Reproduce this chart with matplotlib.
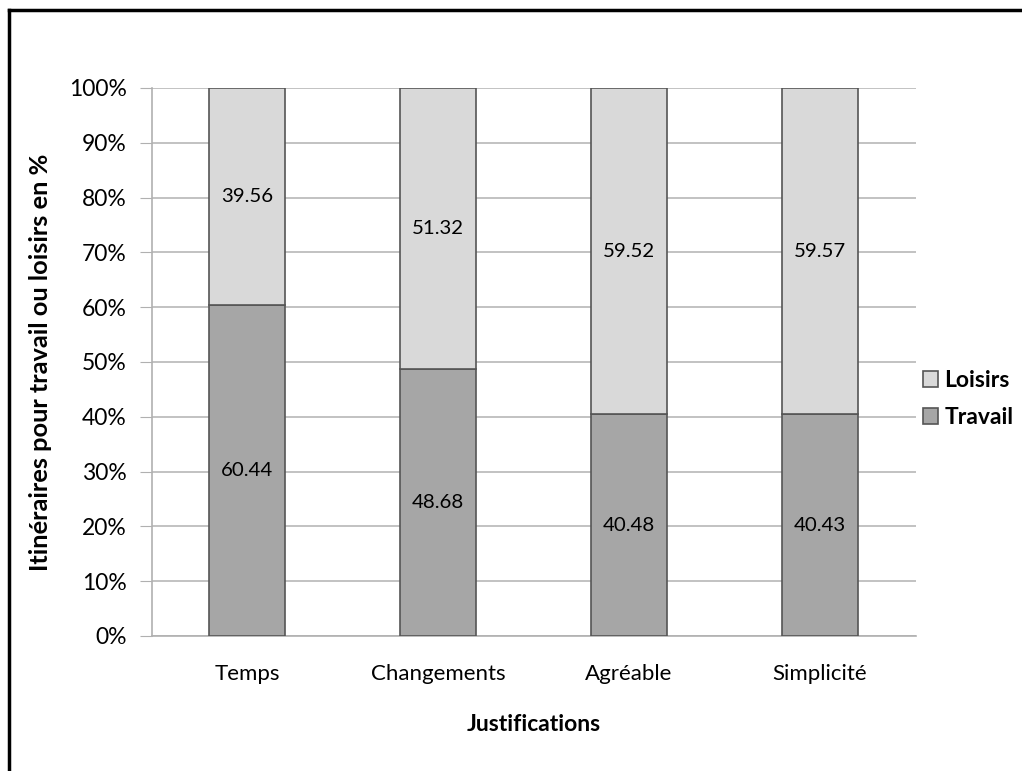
import matplotlib.pyplot as plt
from matplotlib.lines import Line2D

# Données
categories = ['Temps', 'Changements', 'Agréable', 'Simplicité']
travail = [60.44, 48.68, 40.48, 40.43]
loisirs = [39.56, 51.32, 59.52, 59.57]
yticks = [0, 10, 20, 30, 40, 50, 60, 70, 80, 90, 100]

plt.rcParams['font.family'] = ['Lato', 'DejaVu Sans']

W, H = 1022, 771
fig = plt.figure(figsize=(W / 100, H / 100), dpi=100)
ax = fig.add_axes([151.5 / W, 1 - 636 / H, 764 / W, 548 / H])

x = range(len(categories))
b1 = ax.bar(x, travail, width=0.4, color='#a6a6a6', edgecolor='#555555',
            linewidth=1.2, label='Travail', zorder=3)
b2 = ax.bar(x, loisirs, width=0.4, bottom=travail, color='#d9d9d9',
            edgecolor='#555555', linewidth=1.2, label='Loisirs', zorder=3)

for i in x:
    ax.text(i, travail[i] / 2, f'{travail[i]:.2f}', ha='center', va='center',
            fontsize=14.7, zorder=4)
    ax.text(i, travail[i] + loisirs[i] / 2, f'{loisirs[i]:.2f}', ha='center',
            va='center', fontsize=14.7, zorder=4)

ax.set_xlim(-0.5, len(categories) - 0.5)
ax.set_ylim(0, 100)
ax.set_yticks(yticks)
ax.set_yticklabels([f'{v}%' for v in yticks], fontsize=16.5)
ax.set_xticks(list(x))
ax.set_xticklabels(categories, fontsize=16)
ax.tick_params(axis='x', length=0, pad=20)
ax.tick_params(axis='y', length=9, color='#b0b0b0', pad=9)
ax.yaxis.grid(True, color='#b8b8b8', linewidth=1.2, zorder=0)

for s in ['top', 'right']:
    ax.spines[s].set_visible(False)
ax.spines['left'].set_color('#b0b0b0')
ax.spines['bottom'].set_color('#b0b0b0')
ax.spines['left'].set_linewidth(1.2)
ax.spines['bottom'].set_linewidth(1.2)

ax.set_xlabel('Justifications', fontsize=16.5, fontweight='bold', labelpad=22)
ax.set_ylabel('Itinéraires pour travail ou loisirs en %', fontsize=18.3,
              fontweight='bold', labelpad=12)

handles = [b2, b1]
leg = fig.legend(handles, ['Loisirs', 'Travail'], loc='center left',
                 bbox_to_anchor=(902 / W, 1 - 399 / H), frameon=False,
                 prop={'size': 16.5, 'weight': 'bold'}, handlelength=0.65,
                 handleheight=0.65, handletextpad=0.3, labelspacing=0.7)

# Cadre (haut et gauche)
fig.add_artist(Line2D([9 / W, 9 / W], [0, 1 - 10 / H], transform=fig.transFigure,
                      color='black', linewidth=2.5))
fig.add_artist(Line2D([9 / W, 1], [1 - 10 / H, 1 - 10 / H], transform=fig.transFigure,
                      color='black', linewidth=2.5))

fig.savefig('out.png', dpi=100)
